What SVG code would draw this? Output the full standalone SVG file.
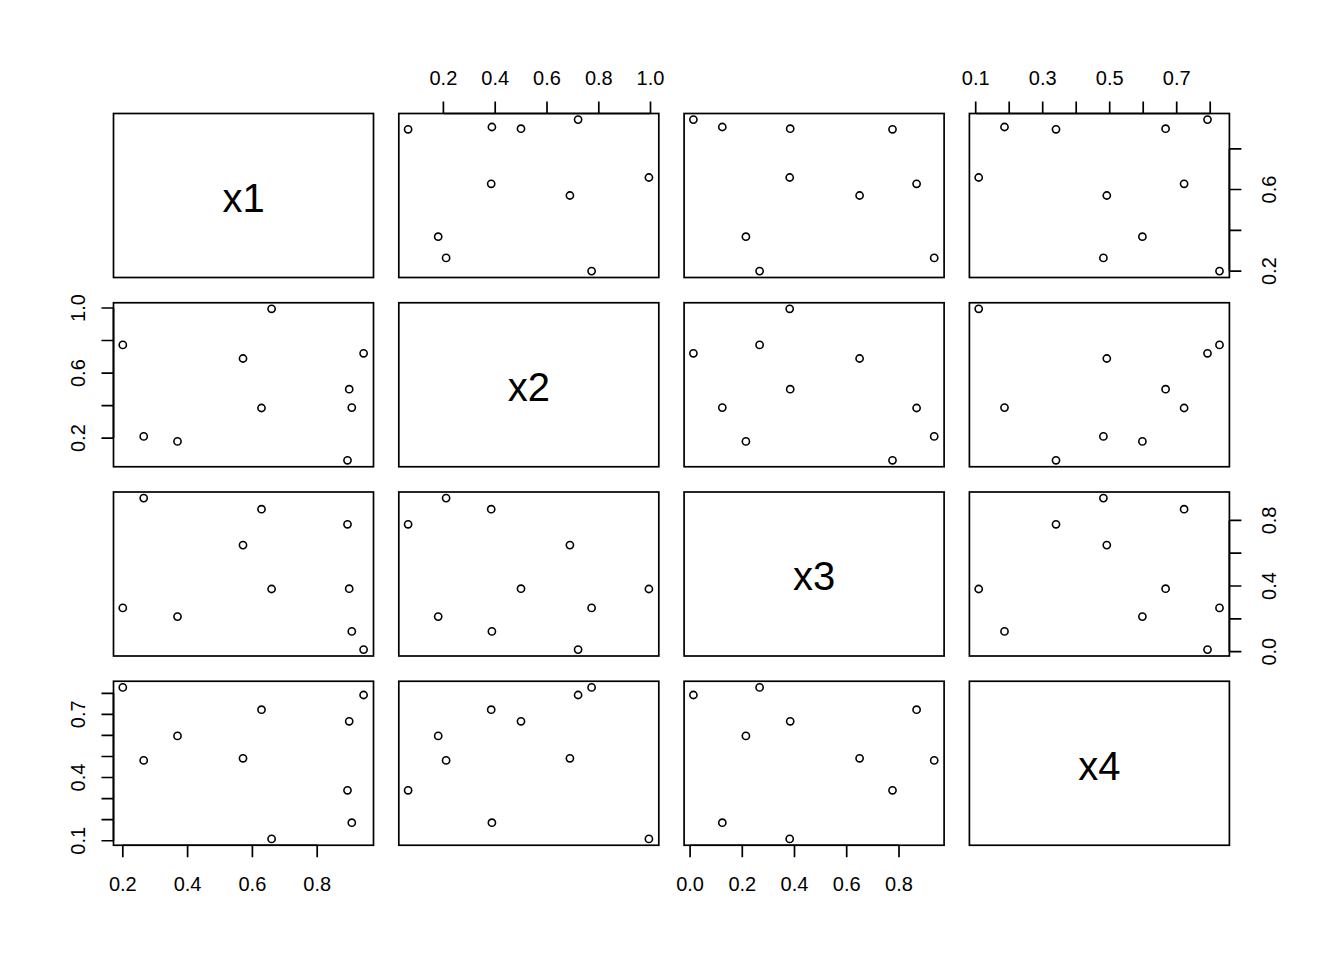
<svg xmlns="http://www.w3.org/2000/svg" xmlns:xlink="http://www.w3.org/1999/xlink" width="1344" height="960" viewBox="0 0 1344 960">
<style>
.box{fill:none;stroke:#000;stroke-width:1.7}
.p{fill:none;stroke:#000;stroke-width:1.6}
.ax{fill:none;stroke:#000;stroke-width:1.7}
.t{font-family:"Liberation Sans",Arial,sans-serif;font-size:20px;fill:#000;text-anchor:middle}
.d{font-family:"Liberation Sans",Arial,sans-serif;font-size:40px;fill:#000;text-anchor:middle}
</style>
<rect width="1344" height="960" fill="#fff"/>
<g id="panel-1-1"><rect class="box" x="113.5" y="113.5" width="260" height="164"/><text class="d" x="243.5" y="211.8">x1</text></g>
<g id="panel-2-2"><rect class="box" x="398.8" y="302.75" width="260" height="164"/><text class="d" x="528.8" y="401">x2</text></g>
<g id="panel-3-3"><rect class="box" x="684.1" y="492" width="260" height="164"/><text class="d" x="814.1" y="590.3">x3</text></g>
<g id="panel-4-4"><rect class="box" x="969.4" y="681.25" width="260" height="164"/><text class="d" x="1099.4" y="779.5">x4</text></g>

<g id="panel-1-2"><rect class="box" x="398.8" y="113.5" width="260" height="164"/>
<circle class="p" r="3.6" cx="591.6" cy="271.1"/><circle class="p" r="3.6" cx="446.1" cy="257.9"/><circle class="p" r="3.6" cx="438.2" cy="236.7"/><circle class="p" r="3.6" cx="569.9" cy="195.5"/><circle class="p" r="3.6" cx="491.2" cy="183.8"/><circle class="p" r="3.6" cx="648.9" cy="177.5"/><circle class="p" r="3.6" cx="521.0" cy="128.7"/><circle class="p" r="3.6" cx="578.1" cy="119.6"/><circle class="p" r="3.6" cx="408.1" cy="129.3"/><circle class="p" r="3.6" cx="491.9" cy="127.0"/></g>
<g id="panel-1-3"><rect class="box" x="684.1" y="113.5" width="260" height="164"/>
<circle class="p" r="3.6" cx="759.6" cy="271.1"/><circle class="p" r="3.6" cx="934.2" cy="257.9"/><circle class="p" r="3.6" cx="745.9" cy="236.7"/><circle class="p" r="3.6" cx="859.6" cy="195.5"/><circle class="p" r="3.6" cx="916.6" cy="183.8"/><circle class="p" r="3.6" cx="789.7" cy="177.5"/><circle class="p" r="3.6" cx="790.2" cy="128.7"/><circle class="p" r="3.6" cx="693.4" cy="119.6"/><circle class="p" r="3.6" cx="892.5" cy="129.3"/><circle class="p" r="3.6" cx="722.3" cy="127.0"/></g>
<g id="panel-1-4"><rect class="box" x="969.4" y="113.5" width="260" height="164"/>
<circle class="p" r="3.6" cx="1219.5" cy="271.1"/><circle class="p" r="3.6" cx="1103.4" cy="257.9"/><circle class="p" r="3.6" cx="1142.4" cy="236.7"/><circle class="p" r="3.6" cx="1106.8" cy="195.5"/><circle class="p" r="3.6" cx="1184.1" cy="183.8"/><circle class="p" r="3.6" cx="978.7" cy="177.5"/><circle class="p" r="3.6" cx="1165.6" cy="128.7"/><circle class="p" r="3.6" cx="1207.5" cy="119.6"/><circle class="p" r="3.6" cx="1056.0" cy="129.3"/><circle class="p" r="3.6" cx="1004.5" cy="127.0"/></g>

<g id="panel-2-1"><rect class="box" x="113.5" y="302.75" width="260" height="164"/>
<circle class="p" r="3.6" cx="122.8" cy="344.9"/><circle class="p" r="3.6" cx="143.7" cy="436.4"/><circle class="p" r="3.6" cx="177.5" cy="441.4"/><circle class="p" r="3.6" cx="243.0" cy="358.5"/><circle class="p" r="3.6" cx="261.5" cy="408.0"/><circle class="p" r="3.6" cx="271.6" cy="308.8"/><circle class="p" r="3.6" cx="349.2" cy="389.2"/><circle class="p" r="3.6" cx="363.6" cy="353.3"/><circle class="p" r="3.6" cx="347.5" cy="460.3"/><circle class="p" r="3.6" cx="351.8" cy="407.6"/></g>
<g id="panel-2-3"><rect class="box" x="684.1" y="302.75" width="260" height="164"/>
<circle class="p" r="3.6" cx="759.6" cy="344.9"/><circle class="p" r="3.6" cx="934.2" cy="436.4"/><circle class="p" r="3.6" cx="745.9" cy="441.4"/><circle class="p" r="3.6" cx="859.6" cy="358.5"/><circle class="p" r="3.6" cx="916.6" cy="408.0"/><circle class="p" r="3.6" cx="789.7" cy="308.8"/><circle class="p" r="3.6" cx="790.2" cy="389.2"/><circle class="p" r="3.6" cx="693.4" cy="353.3"/><circle class="p" r="3.6" cx="892.5" cy="460.3"/><circle class="p" r="3.6" cx="722.3" cy="407.6"/></g>
<g id="panel-2-4"><rect class="box" x="969.4" y="302.75" width="260" height="164"/>
<circle class="p" r="3.6" cx="1219.5" cy="344.9"/><circle class="p" r="3.6" cx="1103.4" cy="436.4"/><circle class="p" r="3.6" cx="1142.4" cy="441.4"/><circle class="p" r="3.6" cx="1106.8" cy="358.5"/><circle class="p" r="3.6" cx="1184.1" cy="408.0"/><circle class="p" r="3.6" cx="978.7" cy="308.8"/><circle class="p" r="3.6" cx="1165.6" cy="389.2"/><circle class="p" r="3.6" cx="1207.5" cy="353.3"/><circle class="p" r="3.6" cx="1056.0" cy="460.3"/><circle class="p" r="3.6" cx="1004.5" cy="407.6"/></g>

<g id="panel-3-1"><rect class="box" x="113.5" y="492" width="260" height="164"/>
<circle class="p" r="3.6" cx="122.8" cy="607.9"/><circle class="p" r="3.6" cx="143.7" cy="498.1"/><circle class="p" r="3.6" cx="177.5" cy="616.6"/><circle class="p" r="3.6" cx="243.0" cy="545.1"/><circle class="p" r="3.6" cx="261.5" cy="509.2"/><circle class="p" r="3.6" cx="271.6" cy="589.0"/><circle class="p" r="3.6" cx="349.2" cy="588.7"/><circle class="p" r="3.6" cx="363.6" cy="649.6"/><circle class="p" r="3.6" cx="347.5" cy="524.3"/><circle class="p" r="3.6" cx="351.8" cy="631.4"/></g>
<g id="panel-3-2"><rect class="box" x="398.8" y="492" width="260" height="164"/>
<circle class="p" r="3.6" cx="591.6" cy="607.9"/><circle class="p" r="3.6" cx="446.1" cy="498.1"/><circle class="p" r="3.6" cx="438.2" cy="616.6"/><circle class="p" r="3.6" cx="569.9" cy="545.1"/><circle class="p" r="3.6" cx="491.2" cy="509.2"/><circle class="p" r="3.6" cx="648.9" cy="589.0"/><circle class="p" r="3.6" cx="521.0" cy="588.7"/><circle class="p" r="3.6" cx="578.1" cy="649.6"/><circle class="p" r="3.6" cx="408.1" cy="524.3"/><circle class="p" r="3.6" cx="491.9" cy="631.4"/></g>
<g id="panel-3-4"><rect class="box" x="969.4" y="492" width="260" height="164"/>
<circle class="p" r="3.6" cx="1219.5" cy="607.9"/><circle class="p" r="3.6" cx="1103.4" cy="498.1"/><circle class="p" r="3.6" cx="1142.4" cy="616.6"/><circle class="p" r="3.6" cx="1106.8" cy="545.1"/><circle class="p" r="3.6" cx="1184.1" cy="509.2"/><circle class="p" r="3.6" cx="978.7" cy="589.0"/><circle class="p" r="3.6" cx="1165.6" cy="588.7"/><circle class="p" r="3.6" cx="1207.5" cy="649.6"/><circle class="p" r="3.6" cx="1056.0" cy="524.3"/><circle class="p" r="3.6" cx="1004.5" cy="631.4"/></g>

<g id="panel-4-1"><rect class="box" x="113.5" y="681.25" width="260" height="164"/>
<circle class="p" r="3.6" cx="122.8" cy="687.4"/><circle class="p" r="3.6" cx="143.7" cy="760.4"/><circle class="p" r="3.6" cx="177.5" cy="735.9"/><circle class="p" r="3.6" cx="243.0" cy="758.3"/><circle class="p" r="3.6" cx="261.5" cy="709.7"/><circle class="p" r="3.6" cx="271.6" cy="838.9"/><circle class="p" r="3.6" cx="349.2" cy="721.3"/><circle class="p" r="3.6" cx="363.6" cy="695.0"/><circle class="p" r="3.6" cx="347.5" cy="790.3"/><circle class="p" r="3.6" cx="351.8" cy="822.7"/></g>
<g id="panel-4-2"><rect class="box" x="398.8" y="681.25" width="260" height="164"/>
<circle class="p" r="3.6" cx="591.6" cy="687.4"/><circle class="p" r="3.6" cx="446.1" cy="760.4"/><circle class="p" r="3.6" cx="438.2" cy="735.9"/><circle class="p" r="3.6" cx="569.9" cy="758.3"/><circle class="p" r="3.6" cx="491.2" cy="709.7"/><circle class="p" r="3.6" cx="648.9" cy="838.9"/><circle class="p" r="3.6" cx="521.0" cy="721.3"/><circle class="p" r="3.6" cx="578.1" cy="695.0"/><circle class="p" r="3.6" cx="408.1" cy="790.3"/><circle class="p" r="3.6" cx="491.9" cy="822.7"/></g>
<g id="panel-4-3"><rect class="box" x="684.1" y="681.25" width="260" height="164"/>
<circle class="p" r="3.6" cx="759.6" cy="687.4"/><circle class="p" r="3.6" cx="934.2" cy="760.4"/><circle class="p" r="3.6" cx="745.9" cy="735.9"/><circle class="p" r="3.6" cx="859.6" cy="758.3"/><circle class="p" r="3.6" cx="916.6" cy="709.7"/><circle class="p" r="3.6" cx="789.7" cy="838.9"/><circle class="p" r="3.6" cx="790.2" cy="721.3"/><circle class="p" r="3.6" cx="693.4" cy="695.0"/><circle class="p" r="3.6" cx="892.5" cy="790.3"/><circle class="p" r="3.6" cx="722.3" cy="822.7"/></g>

<g id="axis-top-x2">
<path class="ax" d="M443.4 113.5H650.5M443.4 113.5V101.5M495.2 113.5V101.5M547 113.5V101.5M598.8 113.5V101.5M650.5 113.5V101.5"/>
<text class="t" x="443.4" y="84.5">0.2</text><text class="t" x="495.2" y="84.5">0.4</text><text class="t" x="547" y="84.5">0.6</text><text class="t" x="598.8" y="84.5">0.8</text><text class="t" x="650.5" y="84.5">1.0</text>
</g>
<g id="axis-top-x4">
<path class="ax" d="M975.7 113.5H1210.2M975.7 113.5V101.5M1009.2 113.5V101.5M1042.7 113.5V101.5M1076.2 113.5V101.5M1109.7 113.5V101.5M1143.2 113.5V101.5M1176.7 113.5V101.5M1210.2 113.5V101.5"/>
<text class="t" x="975.7" y="84.5">0.1</text><text class="t" x="1042.7" y="84.5">0.3</text><text class="t" x="1109.7" y="84.5">0.5</text><text class="t" x="1176.7" y="84.5">0.7</text>
</g>
<g id="axis-bottom-x1">
<path class="ax" d="M122.8 845.25H317.2M122.8 845.25V857.25M187.6 845.25V857.25M252.4 845.25V857.25M317.2 845.25V857.25"/>
<text class="t" x="122.8" y="891">0.2</text><text class="t" x="187.6" y="891">0.4</text><text class="t" x="252.4" y="891">0.6</text><text class="t" x="317.2" y="891">0.8</text>
</g>
<g id="axis-bottom-x3">
<path class="ax" d="M690.1 845.25H899M690.1 845.25V857.25M742.3 845.25V857.25M794.5 845.25V857.25M846.7 845.25V857.25M899 845.25V857.25"/>
<text class="t" x="690.1" y="891">0.0</text><text class="t" x="742.3" y="891">0.2</text><text class="t" x="794.5" y="891">0.4</text><text class="t" x="846.7" y="891">0.6</text><text class="t" x="899" y="891">0.8</text>
</g>
<g id="axis-left-x2">
<path class="ax" d="M113.5 438.1V308M113.5 438.1H101.5M113.5 405.6H101.5M113.5 373.1H101.5M113.5 340.5H101.5M113.5 308H101.5"/>
<text class="t" transform="translate(85 438.1) rotate(-90)">0.2</text><text class="t" transform="translate(85 373.1) rotate(-90)">0.6</text><text class="t" transform="translate(85 308) rotate(-90)">1.0</text>
</g>
<g id="axis-left-x4">
<path class="ax" d="M113.5 840.75V693.3M113.5 840.75H101.5M113.5 819.7H101.5M113.5 798.6H101.5M113.5 777.5H101.5M113.5 756.5H101.5M113.5 735.4H101.5M113.5 714.3H101.5M113.5 693.3H101.5"/>
<text class="t" transform="translate(85 840.75) rotate(-90)">0.1</text><text class="t" transform="translate(85 777.5) rotate(-90)">0.4</text><text class="t" transform="translate(85 714.3) rotate(-90)">0.7</text>
</g>
<g id="axis-right-x1">
<path class="ax" d="M1229.4 271.1V148.8M1229.4 271.1H1241.4M1229.4 230.3H1241.4M1229.4 189.5H1241.4M1229.4 148.8H1241.4"/>
<text class="t" transform="translate(1276 271.1) rotate(-90)">0.2</text><text class="t" transform="translate(1276 189.5) rotate(-90)">0.6</text>
</g>
<g id="axis-right-x3">
<path class="ax" d="M1229.4 651.7V520.4M1229.4 651.7H1241.4M1229.4 618.9H1241.4M1229.4 586H1241.4M1229.4 553.2H1241.4M1229.4 520.4H1241.4"/>
<text class="t" transform="translate(1276 651.7) rotate(-90)">0.0</text><text class="t" transform="translate(1276 586) rotate(-90)">0.4</text><text class="t" transform="translate(1276 520.4) rotate(-90)">0.8</text>
</g>
</svg>
